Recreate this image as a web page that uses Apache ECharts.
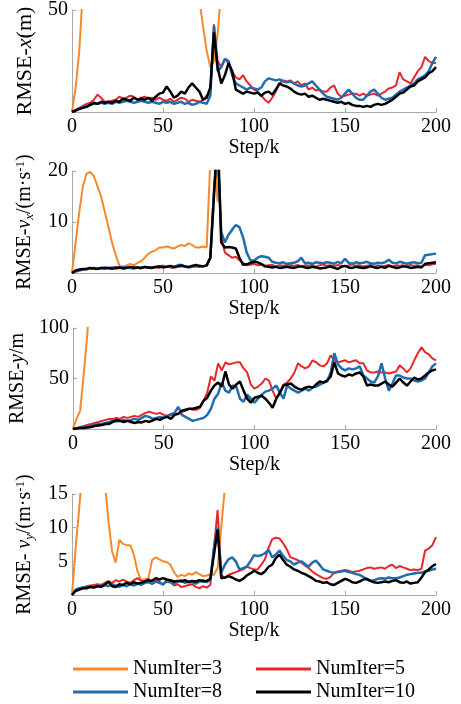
<!DOCTYPE html>
<html><head><meta charset="utf-8">
<script src="https://cdn.jsdelivr.net/npm/echarts@6/dist/echarts.min.js"></script>
<style>html,body{margin:0;padding:0;background:#fff}#c{width:461px;height:704px}</style>
</head><body><div id="c"></div>
<script>
// x samples (every 2 steps)
const steps = Array.from({length:101}, (_, i) => i * 2);
const seriesNames = ['NumIter=3','NumIter=5','NumIter=8','NumIter=10'];
const xTicks = [0,50,100,150,200];

// ---- Panel 1: RMSE-x (m) ----
const x_it3 = [0,12,30,60,150,150,150,150,150,150,
 150,150,150,150,150,150,150,150,150,150,
 150,150,150,150,150,150,150,150,150,150,
 150,150,150,150,150,55,42,30,22,25,
 38,60,150,150,150,150,150,150,150,150,
 150,150,150,150,150,150,150,150,150,150,
 150,150,150,150,150,150,150,150,150,150,
 150,150,150,150,150,150,150,150,150,150,
 150,150,150,150,150,150,150,150,150,150,
 150,150,150,150,150,150,150,150,150,150,150];
const x_it5 = [0,1,2,3,4,4.5,6,8.5,7,5,
 5,5.5,6,7.5,6.5,7,8,7.5,6,7,
 7.5,6.5,7,6,7,6,5.5,6.5,5,6,
 7,6.5,5,6,5.5,5,6,8,10,43,
 25,22,26,24,20,17,16,18,15,13,
 11,10,8,6,4.5,7,10,14,15.5,15,
 15.5,14,15,13,14,11,12,10.5,11,10,
 10,12,13,9,7.5,8,8.5,9,9,8,
 9,8,8.5,9,8,9,10,11.5,12,13,
 19.5,16,15,14,17,20,22,27,25,24,24];
const x_it8 = [0,0.5,1.5,2.5,3,3.5,4,4,4.5,4,
 4.5,4,5,4.5,5,5.5,5,4.5,5,5.5,
 5,4.5,5,4.5,4,5,4.5,5,4,4.5,
 5,4,4.5,3.5,4,5,4.5,4,8,42,
 20,22,26,25,18,14,13,12,11,12,
 11.5,11,12,15,16.5,16,15.5,16,15,14.5,
 15,14,13,12.5,13,14,15,13,11,9,
 7.5,7,6.5,6,7,9,11,9,7,6,
 6,8,10,11,9,7,6,6.5,7,8.5,
 10,11,12,13,14,16,17,18,20,24,27];
const x_it10 = [0,0.8,1.5,2,2.5,3.5,4.5,4,5,4.5,
 5,4.5,5.5,5,6.5,6,5.5,7,6,6.5,
 6,7,5.5,7.5,9,9.5,12.5,10,7,8,
 10,9,12,14,12,10,6,7,12,39,
 22,14,18,24,20,11,10,9,10,9.5,
 9,9.5,8,9.5,10,8.5,11,14,13,12.5,
 11.5,10,9,8.5,9,7.5,8,7,6,6.5,
 6,5.5,5,4.5,5,4,4.5,3.5,3,3,
 2.5,3,2.5,3.5,4,3.5,4,5,6,7.5,
 9,9.5,11,12.5,13,15,16,17,19,20,22];

// ---- Panel 2: RMSE-vx ----
const vx_it3 = [0,6,12,17,19.5,19.8,19,17,15,12,
 9,6,3.5,1.5,1.2,1.5,1.8,1.5,2,2.3,
 3,3.8,4.2,4.5,5,5,5.2,5,4.8,5.2,
 5.5,5.3,5.8,5.5,5,5,5.2,5,22,25,
 14,30,60,60,60,60,60,60,60,60,
 60,60,60,60,60,60,60,60,60,60,
 60,60,60,60,60,60,60,60,60,60,
 60,60,60,60,60,60,60,60,60,60,
 60,60,60,60,60,60,60,60,60,60,
 60,60,60,60,60,60,60,60,60,60,60];
const vx_it5 = [0,0.4,0.6,0.8,0.7,0.9,1,0.8,0.9,1.1,
 0.9,1,1.2,1,0.9,1.1,1,1.2,1,0.9,
 1.1,1,1.2,1.1,1,1.2,1.3,1.1,1,1.2,
 1.3,1.2,1.1,1.3,1.2,1.4,1.3,1.4,3,16,
 25,7,4,3.5,3,3.2,2.5,2,1.5,1.6,
 1.8,1.5,1.6,1.4,1.5,1.6,1.3,1.5,1.4,1.6,
 1.5,1.4,1.6,1.3,1.5,1.4,1.6,1.2,1.5,1.7,
 1.4,1.5,1.3,1.6,1.4,1.3,1.5,1.7,1.4,1.5,
 1.3,1.4,1.6,1.2,1.5,1.3,1.4,1.6,1.3,1.5,
 1.4,1.5,1.3,1.6,1.4,1.5,1.3,1.6,1.5,1.7,1.8];
const vx_it8 = [0,0.3,0.5,0.7,0.8,0.9,1,0.9,1,1.1,
 1,1.1,0.9,1,1.2,1.1,1,0.9,1.1,1,
 1.2,1.1,1,1.2,1.3,1.4,1.2,1.3,1.1,1.5,
 1.6,1.3,1.1,1.2,1.4,1.2,1.3,1.5,3,16,
 25,8,6,7.5,8.5,9.4,9,7,4,2.5,
 2.4,3,3.3,3.2,3,2.2,2,1.9,2.1,1.8,
 1.9,2,2.3,3,1.9,2,1.8,2.1,2,1.9,
 2.1,2,1.8,2.2,1.9,2.8,2,1.8,2.1,1.9,
 2,2.2,1.9,1.8,2,1.9,2.1,2.6,2,1.9,
 2.2,2,1.8,2,2.1,1.9,2,3.5,3.6,3.7,3.8];
const vx_it10 = [0,0.5,0.7,0.8,0.8,1,0.9,0.8,1,0.9,
 1,0.8,1,1.1,0.9,1,1.2,1,1.1,1,
 1.2,1.1,1,1.2,1.3,1.1,1.2,1.4,1.2,1.3,
 1.5,1.3,1.2,1.4,1.6,1.4,1.3,1.5,3,15,
 28,6,5,5.1,5,4.8,3,1.6,1.7,2,
 2.2,2.1,1.8,1.3,1.2,1.1,1.2,1,1.1,1.2,
 1.1,1,1.2,1.3,1.1,1,1.2,1.1,0.9,1,
 1.1,1.3,1,0.8,1.2,1.4,1.1,1,1.2,1.1,
 1,1.1,1.3,1.1,1,1.2,1,1.4,1.2,1,
 1.1,1.3,1.2,1,1.1,1.2,1.1,1.8,1.9,2,2.1];

// ---- Panel 3: RMSE-y ----
const y_it3 = [0,10,18,55,95,160,160,160,160,160,
 160,160,160,160,160,160,160,160,160,160,
 160,160,160,160,160,160,160,160,160,160,
 160,160,160,160,160,160,160,160,160,160,
 160,160,160,160,160,160,160,160,160,160,
 160,160,160,160,160,160,160,160,160,160,
 160,160,160,160,160,160,160,160,160,160,
 160,160,160,160,160,160,160,160,160,160,
 160,160,160,160,160,160,160,160,160,160,
 160,160,160,160,160,160,160,160,160,160,160];
const y_it5 = [0,1,2,3,4,5,6,7,8,9,
 10,10,11,10,12,11,12,13,12,14,
 16,17,16,15,16,14,13,15,16,15,
 17,18,20,19,19,21,28,36,52,48,
 65,58,66,64,65,66,66,60,56,44,
 40,42,45,50,48,38,30,35,44,46,
 50,56,65,62,60,62,68,66,63,62,
 65,73,68,66,67,68,66,67,68,65,
 65,58,56,56,57,56,56,55,56,57,
 63,60,56,60,68,75,81,76,74,70,68];
const y_it8 = [0,0.5,1,2,2.5,3,4,5,5,6,
 7,8,7.5,8,9,8,9,10,9,11,
 13,12,10,11,12,11,13,14,16,22,
 14,12,10,8,9,10,11,14,20,30,
 35,46,38,36,43,42,30,27,34,30,
 26,30,34,37,38,40,43,36,30,43,
 40,38,36,38,40,38,41,42,44,46,
 47,56,75,64,60,58,60,59,60,62,
 53,50,47,46,52,65,50,38,45,53,
 53,51,50,50,48,47,48,50,56,62,65];
const y_it10 = [0,0.5,1,1,1.5,2,3,3.5,4,5,
 5,7,9,8,7,8,7,6,7,6.5,
 8,7,8.5,10,9,11,12,10,14,15,
 18,19,20,20,21,22,28,31,38,43,
 46,42,57,44,40,44,47,38,30,26,
 31,32,33,30,26,21,30,36,43,44,
 45,42,40,39,41,42,41,44,47,46,
 48,52,66,55,53,52,54,53,55,56,
 52,43,44,43,43,45,47,44,42,46,
 50,46,43,47,51,49,50,53,56,58,59];

// ---- Panel 4: RMSE-vy ----
const vy_it3 = [0,7,13,20,30,30,30,30,30,17,
 11,6.5,4.8,8.2,7.6,7.4,7.4,6,3.5,2.2,
 2.3,2.5,5.2,5.6,5.3,5,4.9,4.5,3.4,2.7,
 3,2.8,3.2,3,3.4,3.1,2.8,2.9,3,3,
 4,10,16,30,30,30,30,30,30,30,
 30,30,30,30,30,30,30,30,30,30,
 30,30,30,30,30,30,30,30,30,30,
 30,30,30,30,30,30,30,30,30,30,
 30,30,30,30,30,30,30,30,30,30,
 30,30,30,30,30,30,30,30,30,30,30];
const vy_it5 = [0,0.7,1,1.1,1.3,1.4,1.5,1.6,1.5,1.8,
 2,1.8,2.2,2,2.3,2,1.8,2.2,2.5,2.1,
 2,2.4,1.6,2.2,2,1.5,2.3,2,1.4,1.6,
 1.2,1.3,1.5,1.6,1.2,1,1.3,1.1,1.5,7,
 12.6,3,2.5,3,3.2,3.4,3.6,3.8,4.2,4,
 3.8,3.8,4.5,5.3,7,8.3,8.5,8.4,7.7,6.8,
 5.6,5.4,5.2,4.8,4.4,4,3.5,3.1,2.8,2.5,
 2.4,2.7,3.3,3.5,3.6,3.7,3.6,3.4,3.5,3.6,
 3.8,4,4.1,3.9,4,4.1,3.9,4.3,4.5,4,
 4.3,4.1,3.9,3.7,3.8,3.7,3.9,6.6,6.9,7.4,8.6];
const vy_it8 = [0,0.8,1,1.1,1.2,1.3,1.2,1.4,1.3,1.5,
 1.3,1.6,1.4,1.2,1.5,1.3,1.6,1.4,1.7,1.5,
 1.8,1.9,1.7,2,1.8,1.6,2,1.9,1.7,2,
 2.2,1.8,2,1.9,1.7,2,2.2,1.9,2.3,7,
 10,3.3,4.5,5.3,5.6,5,3.8,4,4.2,5,
 5.9,5.8,5.9,6.2,6.7,5.6,6,6.6,5.8,5.2,
 5,4.5,4.8,5,4.6,4.2,4.8,5.1,4.5,3.8,
 3.6,3.4,3.3,3.4,3.5,3.6,3.4,3.3,3.1,3,
 2.7,2.3,2.1,2.2,2.4,2.5,2.4,2.6,2.5,2.5,
 2.6,2.8,3,3.1,3.2,3.3,3.3,3.5,3.6,3.8,3.9];
const vy_it10 = [0,0.6,0.8,1,1,1.2,1.1,1.3,1.2,1.5,
 2,1.3,1.2,1.6,1.5,1.8,1.6,1.9,1.7,1.8,
 2,2.2,2.1,2.5,2.3,2.5,2.3,2.2,2,2.1,
 2,2.2,1.9,2.1,2,2.2,2,2.1,2.4,6,
 9.7,2.5,2.6,2.8,2.6,2.3,2.1,2.4,2.9,3.2,
 3.6,3.3,3.1,3.5,4.2,4.5,5.5,6,5.2,4.5,
 4.2,3.8,3.6,3.3,3.1,2.8,2.5,2.1,2,1.8,
 1.9,1.6,1.5,1.8,2.1,2.4,2.2,1.9,1.8,2,
 2.3,2.4,2.1,1.9,1.8,1.9,2,1.9,2.1,2.2,
 1.9,1.8,2,1.7,1.8,1.9,2.6,3.4,3.8,4.3,4.6];

const panels = [
  {name:'{n|RMSE-}{i|x}{n|(m)}', nameSize:22, max:50, interval:50, data:[x_it3,x_it5,x_it8,x_it10]},
  {name:'{n|RMSE-}{i|v}{sub|x}{n|/(m·s}{sup|-1}{n|)}', nameSize:20, max:20, interval:10, data:[vx_it3,vx_it5,vx_it8,vx_it10]},
  {name:'{n|RMSE-}{i|y}{n|/m}', nameSize:20, max:100, interval:50, data:[y_it3,y_it5,y_it8,y_it10]},
  {name:'{n|RMSE- }{i|v}{sub|y}{n|/(m·s}{sup|-1}{n|)}', nameSize:20, max:15, interval:5, data:[vy_it3,vy_it5,vy_it8,vy_it10]}
];
const colors = ['#F7892B','#E8262B','#1F6DB1','#000000'];
const widths = [2,2,2.5,2.5];
const grids = [{top:10,height:102},{top:171,height:102},{top:328,height:101},{top:494,height:101}];
const FONT = "'Liberation Serif', 'Times New Roman', serif";
const FS = 20;
const axisGray = '#a8a8a8';

function legendItem(idx, left, top) {
  return {data:[{name:seriesNames[idx], textStyle:{fontFamily:FONT, fontSize:FS, color:'#000'}}],
    left:left, top:top, itemWidth:55, itemHeight:3, icon:'rect',
    padding:0, textStyle:{fontFamily:FONT, fontSize:FS, color:'#000'}};
}

const option = {
  backgroundColor:'#ffffff',
  animation:false,
  textStyle:{fontFamily:FONT},
  grid: grids.map(g => ({left:72, right:25, top:g.top, height:g.height})),
  xAxis: panels.map((p,i) => ({
    gridIndex:i, type:'value', min:0, max:200, interval:50,
    name:'Step/k', nameLocation:'middle', nameGap:25,
    nameTextStyle:{fontFamily:FONT, fontSize:FS, color:'#000'},
    axisLine:{show:true, lineStyle:{color:axisGray, width:1}},
    axisTick:{show:true, inside:true, length:4, lineStyle:{color:axisGray}},
    axisLabel:{fontFamily:FONT, fontSize:FS, color:'#000', margin:5},
    splitLine:{show:false}
  })),
  yAxis: panels.map((p,i) => ({
    gridIndex:i, type:'value', min:0, max:p.max, interval:p.interval,
    name:p.name, nameLocation:'middle', nameRotate:90, nameGap:36,
    nameTextStyle:{fontFamily:FONT, fontSize:p.nameSize, color:'#000',
      rich:{
        n:{fontFamily:FONT, fontSize:p.nameSize, color:'#000'},
        i:{fontFamily:FONT, fontSize:p.nameSize, fontStyle:'italic', color:'#000'},
        sub:{fontFamily:FONT, fontSize:13, fontStyle:'italic', color:'#000', verticalAlign:'bottom', padding:[9,0,0,0]},
        sup:{fontFamily:FONT, fontSize:13, color:'#000', verticalAlign:'top', padding:[0,0,7,0]}
      }},
    axisLine:{show:true, lineStyle:{color:axisGray, width:1}},
    axisTick:{show:true, inside:true, length:4, lineStyle:{color:axisGray}},
    axisLabel:{fontFamily:FONT, fontSize:FS, color:'#000', margin:4, showMinLabel:false},
    splitLine:{show:false}
  })),
  legend: [
    legendItem(0, 73, 659),
    legendItem(2, 73, 682),
    legendItem(1, 256, 659),
    legendItem(3, 256, 682)
  ],
  series: []
};
panels.forEach((p,i) => {
  p.data.forEach((arr,k) => {
    option.series.push({
      name: seriesNames[k], type:'line', xAxisIndex:i, yAxisIndex:i,
      data: steps.map((s,j) => [s, arr[j]]),
      showSymbol:false, symbol:'none', clip:true,
      color: colors[k],
      lineStyle:{color:colors[k], width:widths[k]},
      z: 2 + k
    });
  });
});
const chart = echarts.init(document.getElementById('c'), null, {renderer:'canvas'});
chart.setOption(option);
</script>
</body></html>
